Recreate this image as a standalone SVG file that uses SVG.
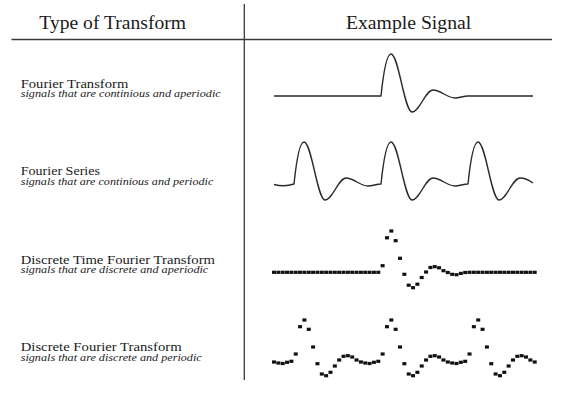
<svg xmlns="http://www.w3.org/2000/svg" xmlns:xlink="http://www.w3.org/1999/xlink" width="562" height="401" viewBox="0 0 562 401">
<style>
.hdr{font-family:"Liberation Serif","Times New Roman",serif;font-size:19px;fill:#1a1a1a}
.lbl{font-family:"Liberation Serif","Times New Roman",serif;font-size:12px;fill:#1a1a1a}
.sub{font-family:"Liberation Serif","Times New Roman",serif;font-size:9.6px;font-style:italic;fill:#1a1a1a}
.rule{stroke:#3a3a3a;stroke-width:1.3;fill:none}
.sig{stroke:#2a2a2a;stroke-width:1.4;fill:none;stroke-linejoin:round}
.dots use{fill:#111}
</style>
<defs>
<rect id="d" x="-2" y="-1.6" width="4" height="3.2"/>
</defs>
<rect width="562" height="401" fill="#fff"/>
<g id="table">
<line class="rule" x1="11.5" y1="39.5" x2="552" y2="39.5"/>
<line class="rule" x1="244.3" y1="4" x2="244.3" y2="380"/>
<text class="hdr" x="39.3" y="28.6" textLength="146.7" lengthAdjust="spacingAndGlyphs">Type of Transform</text>
<text class="hdr" x="346" y="28.6" textLength="125.2" lengthAdjust="spacingAndGlyphs">Example Signal</text>
</g>
<g id="row-ft">
<text class="lbl" x="20.7" y="87.5" textLength="107.6" lengthAdjust="spacingAndGlyphs">Fourier Transform</text>
<text class="sub" x="20.7" y="97" textLength="200" lengthAdjust="spacingAndGlyphs">signals that are continious and aperiodic</text>
<path class="sig" d="M274,96 L381,96 C383.5,72 387,54 391,54 C398.6,54 404.4,112 412,112 C419.6,112 425.4,90 433,90 C441,90 447,98 455,98 C460,98 463,96 468,96 L533,96"/>
</g>
<g id="row-fs">
<text class="lbl" x="20.7" y="175.4" textLength="79.3" lengthAdjust="spacingAndGlyphs">Fourier Series</text>
<text class="sub" x="20.7" y="184.9" textLength="192.6" lengthAdjust="spacingAndGlyphs">signals that are continious and periodic</text>
<path class="sig" d="M274,184.5 C280,186 288,186 294,184 C296.5,160 300,142 304,142 C311.6,142 317.4,200 325,200 C332.6,200 338.4,178 346,178 C354,178 360,186 368,186 C373,186 376,184 381,184 C383.5,160 387,142 391,142 C398.6,142 404.4,200 412,200 C419.6,200 425.4,178 433,178 C441,178 447,186 455,186 C460,186 463,184 468,184 C470.5,160 474,142 478,142 C485.6,142 491.4,200 499,200 C506.6,200 512.4,178 520,178 C525,178 529,180 533,183"/>
</g>
<g id="row-dtft">
<text class="lbl" x="20.7" y="263.6" textLength="194.3" lengthAdjust="spacingAndGlyphs">Discrete Time Fourier Transform</text>
<text class="sub" x="20.7" y="273.1" textLength="187.6" lengthAdjust="spacingAndGlyphs">signals that are discrete and aperiodic</text>
<g class="dots">
<use href="#d" x="274.0" y="272.3"/><use href="#d" x="278.35" y="272.3"/><use href="#d" x="282.69" y="272.3"/><use href="#d" x="287.04" y="272.3"/><use href="#d" x="291.38" y="272.3"/>
<use href="#d" x="295.73" y="272.3"/><use href="#d" x="300.07" y="272.3"/><use href="#d" x="304.42" y="272.3"/><use href="#d" x="308.76" y="272.3"/><use href="#d" x="313.11" y="272.3"/>
<use href="#d" x="317.45" y="272.3"/><use href="#d" x="321.8" y="272.3"/><use href="#d" x="326.14" y="272.3"/><use href="#d" x="330.49" y="272.3"/><use href="#d" x="334.83" y="272.3"/>
<use href="#d" x="339.18" y="272.3"/><use href="#d" x="343.52" y="272.3"/><use href="#d" x="347.87" y="272.3"/><use href="#d" x="352.21" y="272.3"/><use href="#d" x="356.56" y="272.3"/>
<use href="#d" x="360.9" y="272.3"/><use href="#d" x="365.25" y="272.3"/><use href="#d" x="369.59" y="272.3"/><use href="#d" x="373.94" y="272.3"/><use href="#d" x="378.28" y="272.3"/>
<use href="#d" x="382.63" y="265.7"/><use href="#d" x="386.97" y="237.8"/><use href="#d" x="391.32" y="231"/><use href="#d" x="395.66" y="240.7"/><use href="#d" x="400.01" y="258.3"/>
<use href="#d" x="404.35" y="274.3"/><use href="#d" x="408.7" y="285.2"/><use href="#d" x="413.04" y="287.7"/><use href="#d" x="417.39" y="284.2"/><use href="#d" x="421.73" y="277.5"/>
<use href="#d" x="426.08" y="272"/><use href="#d" x="430.42" y="267.5"/><use href="#d" x="434.77" y="266.7"/><use href="#d" x="439.11" y="267.8"/><use href="#d" x="443.46" y="270.7"/>
<use href="#d" x="447.8" y="272.5"/><use href="#d" x="452.15" y="274.3"/><use href="#d" x="456.49" y="274.7"/><use href="#d" x="460.84" y="273.4"/><use href="#d" x="465.18" y="272.5"/>
<use href="#d" x="469.53" y="272.3"/><use href="#d" x="473.87" y="272.3"/><use href="#d" x="478.22" y="272.3"/><use href="#d" x="482.56" y="272.3"/><use href="#d" x="486.91" y="272.3"/>
<use href="#d" x="491.25" y="272.3"/><use href="#d" x="495.6" y="272.3"/><use href="#d" x="499.94" y="272.3"/><use href="#d" x="504.29" y="272.3"/><use href="#d" x="508.63" y="272.3"/>
<use href="#d" x="512.98" y="272.3"/><use href="#d" x="517.32" y="272.3"/><use href="#d" x="521.67" y="272.3"/><use href="#d" x="526.01" y="272.3"/><use href="#d" x="530.36" y="272.3"/>
<use href="#d" x="534.7" y="272.3"/>
</g>
</g>
<g id="row-dft">
<text class="lbl" x="20.7" y="351.4" textLength="161" lengthAdjust="spacingAndGlyphs">Discrete Fourier Transform</text>
<text class="sub" x="20.7" y="360.9" textLength="181" lengthAdjust="spacingAndGlyphs">signals that are discrete and periodic</text>
<g class="dots">
<use href="#d" x="274.0" y="362"/><use href="#d" x="278.35" y="363"/><use href="#d" x="282.69" y="363.5"/><use href="#d" x="287.04" y="362.3"/><use href="#d" x="291.38" y="361.3"/>
<use href="#d" x="295.73" y="354"/><use href="#d" x="300.07" y="326.7"/><use href="#d" x="304.42" y="320"/><use href="#d" x="308.76" y="329.3"/><use href="#d" x="313.11" y="347"/>
<use href="#d" x="317.45" y="363.7"/><use href="#d" x="321.8" y="374"/><use href="#d" x="326.14" y="375.7"/><use href="#d" x="330.49" y="372.3"/><use href="#d" x="334.83" y="366"/>
<use href="#d" x="339.18" y="360"/><use href="#d" x="343.52" y="356.3"/><use href="#d" x="347.87" y="355.7"/><use href="#d" x="352.21" y="357"/><use href="#d" x="356.56" y="360"/>
<use href="#d" x="360.9" y="362"/><use href="#d" x="365.25" y="363"/><use href="#d" x="369.59" y="363.5"/><use href="#d" x="373.94" y="362.3"/><use href="#d" x="378.28" y="361.3"/>
<use href="#d" x="382.63" y="354"/><use href="#d" x="386.97" y="326.7"/><use href="#d" x="391.32" y="320"/><use href="#d" x="395.66" y="329.3"/><use href="#d" x="400.01" y="347"/>
<use href="#d" x="404.35" y="363.7"/><use href="#d" x="408.7" y="374"/><use href="#d" x="413.04" y="375.7"/><use href="#d" x="417.39" y="372.3"/><use href="#d" x="421.73" y="366"/>
<use href="#d" x="426.08" y="360"/><use href="#d" x="430.42" y="356.3"/><use href="#d" x="434.77" y="355.7"/><use href="#d" x="439.11" y="357"/><use href="#d" x="443.46" y="360"/>
<use href="#d" x="447.8" y="362"/><use href="#d" x="452.15" y="363"/><use href="#d" x="456.49" y="363.5"/><use href="#d" x="460.84" y="362.3"/><use href="#d" x="465.18" y="361.3"/>
<use href="#d" x="469.53" y="354"/><use href="#d" x="473.87" y="326.7"/><use href="#d" x="478.22" y="320"/><use href="#d" x="482.56" y="329.3"/><use href="#d" x="486.91" y="347"/>
<use href="#d" x="491.25" y="363.7"/><use href="#d" x="495.6" y="374"/><use href="#d" x="499.94" y="375.7"/><use href="#d" x="504.29" y="372.3"/><use href="#d" x="508.63" y="366"/>
<use href="#d" x="512.98" y="360"/><use href="#d" x="517.32" y="356.3"/><use href="#d" x="521.67" y="355.7"/><use href="#d" x="526.01" y="357"/><use href="#d" x="530.36" y="360"/>
<use href="#d" x="534.7" y="362"/>
</g>
</g>
</svg>
